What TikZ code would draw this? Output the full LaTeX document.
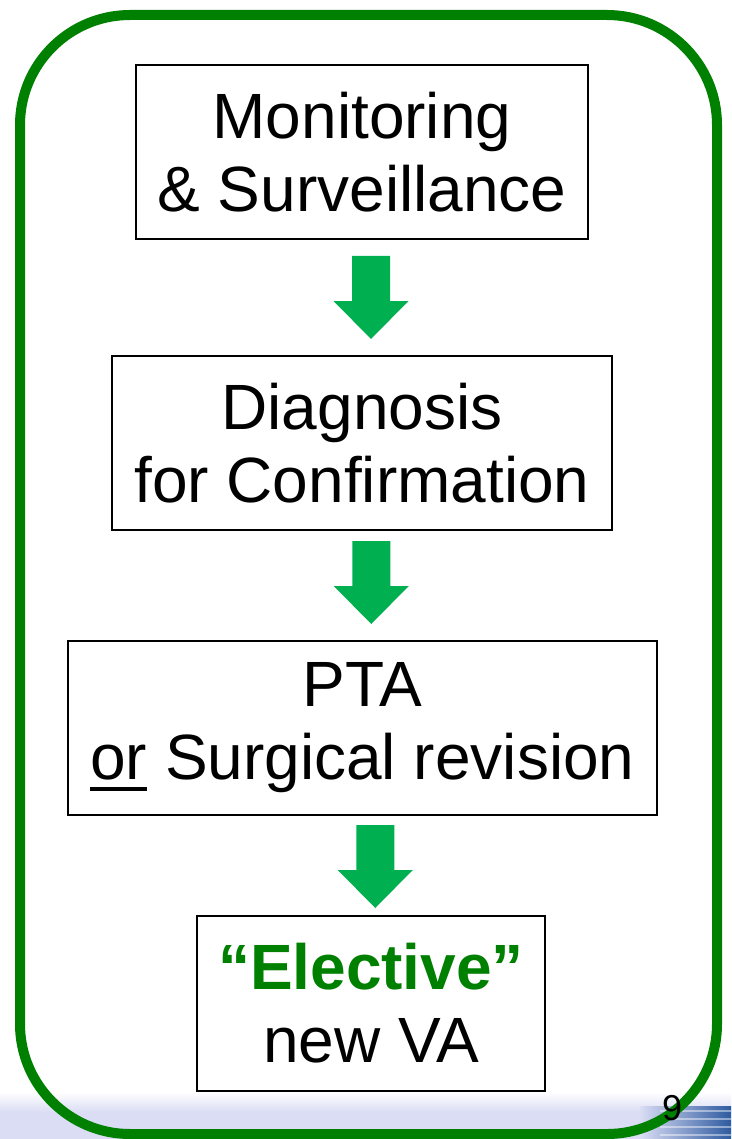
\documentclass[tikz,border=0pt]{standalone}
\usepackage{fontspec}
\setmainfont{Liberation Sans}
\usetikzlibrary{calc}
\definecolor{framegreen}{RGB}{0,128,0}
\definecolor{arrowgreen}{RGB}{0,176,80}
\definecolor{bandlav}{RGB}{218,221,244}
\definecolor{stripeblue}{RGB}{45,90,160}
\newcommand{\thickul}[1]{{\setbox0\hbox{#1}\rlap{\rule[-11.5pt]{\wd0}{4.5pt}}#1}}
\tikzset{
  stepbox/.style={draw=black, line width=2pt, align=center, inner sep=0pt,
    anchor=north west, minimum height=174pt,
    font=\fontsize{64}{73}\selectfont},
  frame/.style={draw=framegreen, line width=10pt, rounded corners=110pt},
  blockarrow/.pic={\fill[arrowgreen] (-19pt,41.5pt) -- (19pt,41.5pt) -- (19pt,-3.5pt)
     -- (37.5pt,-3.5pt) -- (0pt,-41.5pt) -- (-37.5pt,-3.5pt) -- (-19pt,-3.5pt) -- cycle;}
}
\begin{document}
\begin{tikzpicture}
\useasboundingbox (0pt,0pt) rectangle (731pt,-1139pt);
\fill[white] (0pt,0pt) rectangle (731pt,-1139pt);
% slide background band
\shade[top color=white, bottom color=bandlav] (0pt,-1092pt) rectangle (731pt,-1112pt);
\fill[bandlav] (0pt,-1112pt) rectangle (731pt,-1139pt);
\shade[left color=bandlav, right color=stripeblue] (640pt,-1106pt) rectangle (731pt,-1139pt);
\foreach \y in {1110,1118,1126,1134}{
  \fill[white, opacity=0.45] (660pt,-\y pt) rectangle (731pt,-\y pt-2pt);
}
% green frame
\draw[frame] (20pt,-15pt) rectangle (717pt,-1134pt);
% slide number
\node[font=\fontsize{36}{40}\selectfont] (num) at (672pt,-1108pt) {9};
% steps
\node[stepbox, minimum width=452pt] (b1) at (135pt,-64pt) {Monitoring\\\& Surveillance};
\node[stepbox, minimum width=500pt] (b2) at (111pt,-355pt) {Diagnosis\\for Confirmation};
\node[stepbox, minimum width=589pt] (b3) at (67pt,-640pt) {PTA\\\thickul{or} Surgical revision};
\node[stepbox, minimum width=348pt, minimum height=175pt] (b4) at (196pt,-915pt)
  {\textcolor{framegreen}{\textbf{“Elective”}}\\new VA};
% arrows
\pic at ($(b1.south)!0.5!(b2.north)+(9pt,0pt)$) {blockarrow};
\pic at ($(b2.south)!0.5!(b3.north)+(9pt,3pt)$) {blockarrow};
\pic at ($(b3.south)!0.5!(b4.north)+(8.5pt,-1pt)$) {blockarrow};
\end{tikzpicture}
\end{document}
